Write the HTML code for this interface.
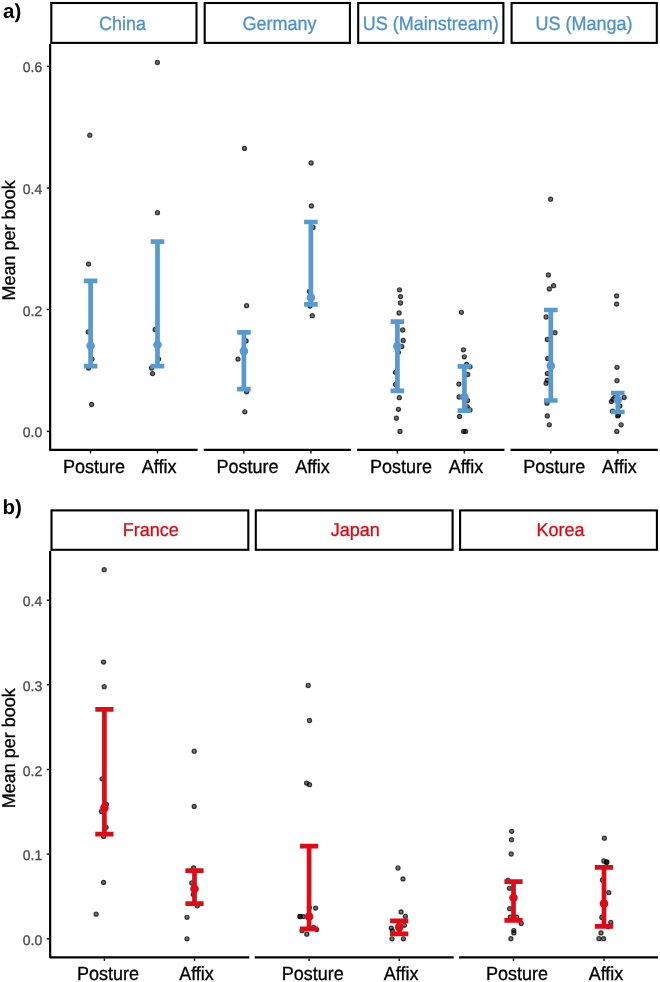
<!DOCTYPE html>
<html lang="en">
<head>
<meta charset="utf-8">
<title>Mean per book: Posture vs Affix by country</title>
<style>
html,body{margin:0;padding:0;background:#fff;}
body{width:660px;height:982px;overflow:hidden;}
svg{display:block;font-family:"Liberation Sans", Arial, Helvetica, sans-serif;text-rendering:geometricPrecision;}
text{stroke-width:0.3px;}
</style>
</head>
<body>
<svg width="660" height="982" viewBox="0 0 660 982">
<rect width="660" height="982" fill="#fff"/>
<text x="3.0" y="18" font-size="20.5" font-weight="bold" fill="#000">a)</text>
<rect x="51.3" y="3.0" width="145.20" height="39.90" fill="#fff" stroke="#000" stroke-width="2.1"/>
<text transform="translate(122.6 29.5) scale(1 1.07)" text-anchor="middle" font-size="18" fill="#4C92CE" stroke="#4C92CE">China</text>
<rect x="204.7" y="3.0" width="145.20" height="39.90" fill="#fff" stroke="#000" stroke-width="2.1"/>
<text transform="translate(279.5 29.5) scale(1 1.07)" text-anchor="middle" font-size="18" fill="#4C92CE" stroke="#4C92CE">Germany</text>
<rect x="358.2" y="3.0" width="145.20" height="39.90" fill="#fff" stroke="#000" stroke-width="2.1"/>
<text transform="translate(430.85 29.5) scale(1 1.07)" text-anchor="middle" font-size="18" fill="#4C92CE" stroke="#4C92CE">US (Mainstream)</text>
<rect x="511.6" y="3.0" width="145.20" height="39.90" fill="#fff" stroke="#000" stroke-width="2.1"/>
<text transform="translate(584.1 29.5) scale(1 1.07)" text-anchor="middle" font-size="18" fill="#4C92CE" stroke="#4C92CE">US (Manga)</text>
<path d="M50.15 44V449.9H197.6" stroke="#000" stroke-width="2.2" fill="none" stroke-linejoin="round"/>
<path d="M203.65 449.9H350.95" stroke="#000" stroke-width="2.2"/>
<path d="M357.15 449.9H504.45" stroke="#000" stroke-width="2.2"/>
<path d="M510.55 449.9H657.85" stroke="#000" stroke-width="2.2"/>
<path d="M46.8 66.3H49.1" stroke="#1a1a1a" stroke-width="1.5"/>
<text transform="translate(42.2 72.30) scale(1 1.0)" text-anchor="end" font-size="14" fill="#4a4a4a" stroke="#4a4a4a">0.6</text>
<path d="M46.8 188.1H49.1" stroke="#1a1a1a" stroke-width="1.5"/>
<text transform="translate(42.2 194.10) scale(1 1.0)" text-anchor="end" font-size="14" fill="#4a4a4a" stroke="#4a4a4a">0.4</text>
<path d="M46.8 309.5H49.1" stroke="#1a1a1a" stroke-width="1.5"/>
<text transform="translate(42.2 315.50) scale(1 1.0)" text-anchor="end" font-size="14" fill="#4a4a4a" stroke="#4a4a4a">0.2</text>
<path d="M46.8 431.4H49.1" stroke="#1a1a1a" stroke-width="1.5"/>
<text transform="translate(42.2 437.40) scale(1 1.0)" text-anchor="end" font-size="14" fill="#4a4a4a" stroke="#4a4a4a">0.0</text>
<text transform="translate(15.2 240.4) rotate(-90) scale(1 1.02)" text-anchor="middle" font-size="18" fill="#000" stroke="#000">Mean per book</text>
<circle cx="89.8" cy="135.2" r="2.05" fill="#000" fill-opacity="0.55" stroke="#000" stroke-opacity="0.74" stroke-width="1.2"/>
<circle cx="88.6" cy="264.1" r="2.05" fill="#000" fill-opacity="0.55" stroke="#000" stroke-opacity="0.74" stroke-width="1.2"/>
<circle cx="88.2" cy="331.8" r="2.05" fill="#000" fill-opacity="0.55" stroke="#000" stroke-opacity="0.74" stroke-width="1.2"/>
<circle cx="92" cy="359.1" r="2.05" fill="#000" fill-opacity="0.55" stroke="#000" stroke-opacity="0.74" stroke-width="1.2"/>
<circle cx="88.6" cy="368" r="2.05" fill="#000" fill-opacity="0.55" stroke="#000" stroke-opacity="0.74" stroke-width="1.2"/>
<circle cx="91.6" cy="404.5" r="2.05" fill="#000" fill-opacity="0.55" stroke="#000" stroke-opacity="0.74" stroke-width="1.2"/>
<circle cx="157.4" cy="62.5" r="2.05" fill="#000" fill-opacity="0.55" stroke="#000" stroke-opacity="0.74" stroke-width="1.2"/>
<circle cx="157.5" cy="212.7" r="2.05" fill="#000" fill-opacity="0.55" stroke="#000" stroke-opacity="0.74" stroke-width="1.2"/>
<circle cx="155.2" cy="329.5" r="2.05" fill="#000" fill-opacity="0.55" stroke="#000" stroke-opacity="0.74" stroke-width="1.2"/>
<circle cx="158.6" cy="359.1" r="2.05" fill="#000" fill-opacity="0.55" stroke="#000" stroke-opacity="0.74" stroke-width="1.2"/>
<circle cx="151.6" cy="368" r="2.05" fill="#000" fill-opacity="0.55" stroke="#000" stroke-opacity="0.74" stroke-width="1.2"/>
<circle cx="152.5" cy="373.6" r="2.05" fill="#000" fill-opacity="0.55" stroke="#000" stroke-opacity="0.74" stroke-width="1.2"/>
<circle cx="244.5" cy="148.4" r="2.05" fill="#000" fill-opacity="0.55" stroke="#000" stroke-opacity="0.74" stroke-width="1.2"/>
<circle cx="246.6" cy="305.7" r="2.05" fill="#000" fill-opacity="0.55" stroke="#000" stroke-opacity="0.74" stroke-width="1.2"/>
<circle cx="246.1" cy="340.9" r="2.05" fill="#000" fill-opacity="0.55" stroke="#000" stroke-opacity="0.74" stroke-width="1.2"/>
<circle cx="238" cy="359.1" r="2.05" fill="#000" fill-opacity="0.55" stroke="#000" stroke-opacity="0.74" stroke-width="1.2"/>
<circle cx="246.6" cy="391.8" r="2.05" fill="#000" fill-opacity="0.55" stroke="#000" stroke-opacity="0.74" stroke-width="1.2"/>
<circle cx="244.8" cy="411.8" r="2.05" fill="#000" fill-opacity="0.55" stroke="#000" stroke-opacity="0.74" stroke-width="1.2"/>
<circle cx="311.1" cy="163" r="2.05" fill="#000" fill-opacity="0.55" stroke="#000" stroke-opacity="0.74" stroke-width="1.2"/>
<circle cx="311.4" cy="205.9" r="2.05" fill="#000" fill-opacity="0.55" stroke="#000" stroke-opacity="0.74" stroke-width="1.2"/>
<circle cx="313" cy="227.5" r="2.05" fill="#000" fill-opacity="0.55" stroke="#000" stroke-opacity="0.74" stroke-width="1.2"/>
<circle cx="309.5" cy="291.4" r="2.05" fill="#000" fill-opacity="0.55" stroke="#000" stroke-opacity="0.74" stroke-width="1.2"/>
<circle cx="310" cy="306.1" r="2.05" fill="#000" fill-opacity="0.55" stroke="#000" stroke-opacity="0.74" stroke-width="1.2"/>
<circle cx="312.3" cy="315.7" r="2.05" fill="#000" fill-opacity="0.55" stroke="#000" stroke-opacity="0.74" stroke-width="1.2"/>
<circle cx="399.5" cy="289.8" r="2.05" fill="#000" fill-opacity="0.55" stroke="#000" stroke-opacity="0.74" stroke-width="1.2"/>
<circle cx="400.5" cy="296.6" r="2.05" fill="#000" fill-opacity="0.55" stroke="#000" stroke-opacity="0.74" stroke-width="1.2"/>
<circle cx="400.5" cy="303" r="2.05" fill="#000" fill-opacity="0.55" stroke="#000" stroke-opacity="0.74" stroke-width="1.2"/>
<circle cx="399.1" cy="313" r="2.05" fill="#000" fill-opacity="0.55" stroke="#000" stroke-opacity="0.74" stroke-width="1.2"/>
<circle cx="402.7" cy="330" r="2.05" fill="#000" fill-opacity="0.55" stroke="#000" stroke-opacity="0.74" stroke-width="1.2"/>
<circle cx="403.2" cy="340.5" r="2.05" fill="#000" fill-opacity="0.55" stroke="#000" stroke-opacity="0.74" stroke-width="1.2"/>
<circle cx="401.8" cy="346.6" r="2.05" fill="#000" fill-opacity="0.55" stroke="#000" stroke-opacity="0.74" stroke-width="1.2"/>
<circle cx="398.4" cy="352.3" r="2.05" fill="#000" fill-opacity="0.55" stroke="#000" stroke-opacity="0.74" stroke-width="1.2"/>
<circle cx="395.5" cy="372.3" r="2.05" fill="#000" fill-opacity="0.55" stroke="#000" stroke-opacity="0.74" stroke-width="1.2"/>
<circle cx="395.5" cy="384.5" r="2.05" fill="#000" fill-opacity="0.55" stroke="#000" stroke-opacity="0.74" stroke-width="1.2"/>
<circle cx="399.3" cy="397.7" r="2.05" fill="#000" fill-opacity="0.55" stroke="#000" stroke-opacity="0.74" stroke-width="1.2"/>
<circle cx="398.4" cy="409.3" r="2.05" fill="#000" fill-opacity="0.55" stroke="#000" stroke-opacity="0.74" stroke-width="1.2"/>
<circle cx="396.4" cy="418.2" r="2.05" fill="#000" fill-opacity="0.55" stroke="#000" stroke-opacity="0.74" stroke-width="1.2"/>
<circle cx="400" cy="431.4" r="2.05" fill="#000" fill-opacity="0.55" stroke="#000" stroke-opacity="0.74" stroke-width="1.2"/>
<circle cx="461.4" cy="312.3" r="2.05" fill="#000" fill-opacity="0.55" stroke="#000" stroke-opacity="0.74" stroke-width="1.2"/>
<circle cx="463.4" cy="349.8" r="2.05" fill="#000" fill-opacity="0.55" stroke="#000" stroke-opacity="0.74" stroke-width="1.2"/>
<circle cx="464.3" cy="356.8" r="2.05" fill="#000" fill-opacity="0.55" stroke="#000" stroke-opacity="0.74" stroke-width="1.2"/>
<circle cx="466.6" cy="364.5" r="2.05" fill="#000" fill-opacity="0.55" stroke="#000" stroke-opacity="0.74" stroke-width="1.2"/>
<circle cx="470" cy="366.8" r="2.05" fill="#000" fill-opacity="0.55" stroke="#000" stroke-opacity="0.74" stroke-width="1.2"/>
<circle cx="467.7" cy="374.5" r="2.05" fill="#000" fill-opacity="0.55" stroke="#000" stroke-opacity="0.74" stroke-width="1.2"/>
<circle cx="458.9" cy="384.1" r="2.05" fill="#000" fill-opacity="0.55" stroke="#000" stroke-opacity="0.74" stroke-width="1.2"/>
<circle cx="459.1" cy="397" r="2.05" fill="#000" fill-opacity="0.55" stroke="#000" stroke-opacity="0.74" stroke-width="1.2"/>
<circle cx="467.5" cy="400.5" r="2.05" fill="#000" fill-opacity="0.55" stroke="#000" stroke-opacity="0.74" stroke-width="1.2"/>
<circle cx="467.3" cy="406.8" r="2.05" fill="#000" fill-opacity="0.55" stroke="#000" stroke-opacity="0.74" stroke-width="1.2"/>
<circle cx="470" cy="410" r="2.05" fill="#000" fill-opacity="0.55" stroke="#000" stroke-opacity="0.74" stroke-width="1.2"/>
<circle cx="459.5" cy="416.4" r="2.05" fill="#000" fill-opacity="0.55" stroke="#000" stroke-opacity="0.74" stroke-width="1.2"/>
<circle cx="463.6" cy="431.4" r="2.05" fill="#000" fill-opacity="0.55" stroke="#000" stroke-opacity="0.74" stroke-width="1.2"/>
<circle cx="465.5" cy="431.4" r="2.05" fill="#000" fill-opacity="0.55" stroke="#000" stroke-opacity="0.74" stroke-width="1.2"/>
<circle cx="550.6" cy="199.2" r="2.05" fill="#000" fill-opacity="0.55" stroke="#000" stroke-opacity="0.74" stroke-width="1.2"/>
<circle cx="548.4" cy="275" r="2.05" fill="#000" fill-opacity="0.55" stroke="#000" stroke-opacity="0.74" stroke-width="1.2"/>
<circle cx="553.6" cy="285.7" r="2.05" fill="#000" fill-opacity="0.55" stroke="#000" stroke-opacity="0.74" stroke-width="1.2"/>
<circle cx="549.3" cy="288.9" r="2.05" fill="#000" fill-opacity="0.55" stroke="#000" stroke-opacity="0.74" stroke-width="1.2"/>
<circle cx="546.1" cy="317" r="2.05" fill="#000" fill-opacity="0.55" stroke="#000" stroke-opacity="0.74" stroke-width="1.2"/>
<circle cx="555" cy="332.7" r="2.05" fill="#000" fill-opacity="0.55" stroke="#000" stroke-opacity="0.74" stroke-width="1.2"/>
<circle cx="547.3" cy="339.5" r="2.05" fill="#000" fill-opacity="0.55" stroke="#000" stroke-opacity="0.74" stroke-width="1.2"/>
<circle cx="547.7" cy="358.6" r="2.05" fill="#000" fill-opacity="0.55" stroke="#000" stroke-opacity="0.74" stroke-width="1.2"/>
<circle cx="547.3" cy="373.6" r="2.05" fill="#000" fill-opacity="0.55" stroke="#000" stroke-opacity="0.74" stroke-width="1.2"/>
<circle cx="547.3" cy="380.2" r="2.05" fill="#000" fill-opacity="0.55" stroke="#000" stroke-opacity="0.74" stroke-width="1.2"/>
<circle cx="546.1" cy="383.2" r="2.05" fill="#000" fill-opacity="0.55" stroke="#000" stroke-opacity="0.74" stroke-width="1.2"/>
<circle cx="547" cy="403.2" r="2.05" fill="#000" fill-opacity="0.55" stroke="#000" stroke-opacity="0.74" stroke-width="1.2"/>
<circle cx="547.3" cy="415.9" r="2.05" fill="#000" fill-opacity="0.55" stroke="#000" stroke-opacity="0.74" stroke-width="1.2"/>
<circle cx="549.3" cy="424.8" r="2.05" fill="#000" fill-opacity="0.55" stroke="#000" stroke-opacity="0.74" stroke-width="1.2"/>
<circle cx="616.6" cy="295.9" r="2.05" fill="#000" fill-opacity="0.55" stroke="#000" stroke-opacity="0.74" stroke-width="1.2"/>
<circle cx="616.6" cy="304.1" r="2.05" fill="#000" fill-opacity="0.55" stroke="#000" stroke-opacity="0.74" stroke-width="1.2"/>
<circle cx="617" cy="367.3" r="2.05" fill="#000" fill-opacity="0.55" stroke="#000" stroke-opacity="0.74" stroke-width="1.2"/>
<circle cx="617" cy="380.7" r="2.05" fill="#000" fill-opacity="0.55" stroke="#000" stroke-opacity="0.74" stroke-width="1.2"/>
<circle cx="624.1" cy="397.5" r="2.05" fill="#000" fill-opacity="0.55" stroke="#000" stroke-opacity="0.74" stroke-width="1.2"/>
<circle cx="613" cy="399.3" r="2.05" fill="#000" fill-opacity="0.55" stroke="#000" stroke-opacity="0.74" stroke-width="1.2"/>
<circle cx="611.4" cy="401.6" r="2.05" fill="#000" fill-opacity="0.55" stroke="#000" stroke-opacity="0.74" stroke-width="1.2"/>
<circle cx="619.8" cy="406.1" r="2.05" fill="#000" fill-opacity="0.55" stroke="#000" stroke-opacity="0.74" stroke-width="1.2"/>
<circle cx="612.5" cy="411.1" r="2.05" fill="#000" fill-opacity="0.55" stroke="#000" stroke-opacity="0.74" stroke-width="1.2"/>
<circle cx="617.7" cy="415.9" r="2.05" fill="#000" fill-opacity="0.55" stroke="#000" stroke-opacity="0.74" stroke-width="1.2"/>
<circle cx="614.8" cy="397.5" r="2.05" fill="#000" fill-opacity="0.55" stroke="#000" stroke-opacity="0.74" stroke-width="1.2"/>
<circle cx="618.5" cy="415" r="2.05" fill="#000" fill-opacity="0.55" stroke="#000" stroke-opacity="0.74" stroke-width="1.2"/>
<circle cx="621.1" cy="424.8" r="2.05" fill="#000" fill-opacity="0.55" stroke="#000" stroke-opacity="0.74" stroke-width="1.2"/>
<circle cx="616.8" cy="431.4" r="2.05" fill="#000" fill-opacity="0.55" stroke="#000" stroke-opacity="0.74" stroke-width="1.2"/>
<path d="M83.80 280.9H97.40M83.80 366.1H97.40M90.6 280.9V366.1" stroke="#569AD0" stroke-width="4.7" fill="none"/>
<circle cx="90.6" cy="345.7" r="4.3" fill="#569AD0"/>
<path d="M150.70 241.7H164.30M150.70 366.1H164.30M157.5 241.7V366.1" stroke="#569AD0" stroke-width="4.7" fill="none"/>
<circle cx="157.5" cy="344.8" r="4.3" fill="#569AD0"/>
<path d="M237.10 332.3H250.70M237.10 389.1H250.70M243.9 332.3V389.1" stroke="#569AD0" stroke-width="4.7" fill="none"/>
<circle cx="243.9" cy="351.1" r="4.3" fill="#569AD0"/>
<path d="M304.10 222H317.70M304.10 304.3H317.70M310.9 222V304.3" stroke="#569AD0" stroke-width="4.7" fill="none"/>
<circle cx="310.9" cy="297.5" r="4.3" fill="#569AD0"/>
<path d="M390.60 321.6H404.20M390.60 390.9H404.20M397.4 321.6V390.9" stroke="#569AD0" stroke-width="4.7" fill="none"/>
<circle cx="397.4" cy="346.4" r="4.3" fill="#569AD0"/>
<path d="M457.60 366.4H471.20M457.60 410.7H471.20M464.4 366.4V410.7" stroke="#569AD0" stroke-width="4.7" fill="none"/>
<circle cx="464.4" cy="397" r="4.3" fill="#569AD0"/>
<path d="M544.00 310H557.60M544.00 400.5H557.60M550.8 310V400.5" stroke="#569AD0" stroke-width="4.7" fill="none"/>
<circle cx="550.8" cy="365.9" r="4.3" fill="#569AD0"/>
<path d="M611.00 393H624.60M611.00 412H624.60M617.8 393V412" stroke="#569AD0" stroke-width="4.7" fill="none"/>
<circle cx="617.8" cy="400" r="4.3" fill="#569AD0"/>
<path d="M90.5 451.0V453.5" stroke="#1a1a1a" stroke-width="1.5"/>
<path d="M157.5 451.0V453.5" stroke="#1a1a1a" stroke-width="1.5"/>
<text transform="translate(94.0 472.5) scale(1 1.055)" text-anchor="middle" font-size="18" fill="#000" stroke="#000">Posture</text>
<text transform="translate(159.1 472.5) scale(1 1.055)" text-anchor="middle" font-size="18" fill="#000" stroke="#000">Affix</text>
<path d="M243.89999999999998 451.0V453.5" stroke="#1a1a1a" stroke-width="1.5"/>
<path d="M310.9 451.0V453.5" stroke="#1a1a1a" stroke-width="1.5"/>
<text transform="translate(247.39999999999998 472.5) scale(1 1.055)" text-anchor="middle" font-size="18" fill="#000" stroke="#000">Posture</text>
<text transform="translate(312.5 472.5) scale(1 1.055)" text-anchor="middle" font-size="18" fill="#000" stroke="#000">Affix</text>
<path d="M397.4 451.0V453.5" stroke="#1a1a1a" stroke-width="1.5"/>
<path d="M464.4 451.0V453.5" stroke="#1a1a1a" stroke-width="1.5"/>
<text transform="translate(400.9 472.5) scale(1 1.055)" text-anchor="middle" font-size="18" fill="#000" stroke="#000">Posture</text>
<text transform="translate(466.0 472.5) scale(1 1.055)" text-anchor="middle" font-size="18" fill="#000" stroke="#000">Affix</text>
<path d="M550.8000000000001 451.0V453.5" stroke="#1a1a1a" stroke-width="1.5"/>
<path d="M617.8000000000001 451.0V453.5" stroke="#1a1a1a" stroke-width="1.5"/>
<text transform="translate(554.3000000000001 472.5) scale(1 1.055)" text-anchor="middle" font-size="18" fill="#000" stroke="#000">Posture</text>
<text transform="translate(619.4000000000001 472.5) scale(1 1.055)" text-anchor="middle" font-size="18" fill="#000" stroke="#000">Affix</text>
<text x="2.4" y="513.5" font-size="20.5" font-weight="bold" fill="#000">b)</text>
<rect x="51.5" y="510.4" width="196.80" height="39.40" fill="#fff" stroke="#000" stroke-width="2.1"/>
<text transform="translate(150.75 535.8) scale(1 1.04)" text-anchor="middle" font-size="18" fill="#DC0813" stroke="#DC0813">France</text>
<rect x="255.8" y="510.4" width="196.80" height="39.40" fill="#fff" stroke="#000" stroke-width="2.1"/>
<text transform="translate(355.3 535.8) scale(1 1.04)" text-anchor="middle" font-size="18" fill="#DC0813" stroke="#DC0813">Japan</text>
<rect x="460.1" y="510.4" width="196.80" height="39.40" fill="#fff" stroke="#000" stroke-width="2.1"/>
<text transform="translate(560.5 535.8) scale(1 1.04)" text-anchor="middle" font-size="18" fill="#DC0813" stroke="#DC0813">Korea</text>
<path d="M50.15 551V957.3H249.3" stroke="#000" stroke-width="2.2" fill="none" stroke-linejoin="round"/>
<path d="M254.75 957.3H453.65" stroke="#000" stroke-width="2.2"/>
<path d="M459.05 957.3H657.95" stroke="#000" stroke-width="2.2"/>
<path d="M46.8 600.3H49.1" stroke="#1a1a1a" stroke-width="1.5"/>
<text transform="translate(42.2 606.30) scale(1 1.0)" text-anchor="end" font-size="14" fill="#4a4a4a" stroke="#4a4a4a">0.4</text>
<path d="M46.8 684.8H49.1" stroke="#1a1a1a" stroke-width="1.5"/>
<text transform="translate(42.2 690.80) scale(1 1.0)" text-anchor="end" font-size="14" fill="#4a4a4a" stroke="#4a4a4a">0.3</text>
<path d="M46.8 769.5H49.1" stroke="#1a1a1a" stroke-width="1.5"/>
<text transform="translate(42.2 775.50) scale(1 1.0)" text-anchor="end" font-size="14" fill="#4a4a4a" stroke="#4a4a4a">0.2</text>
<path d="M46.8 854.1H49.1" stroke="#1a1a1a" stroke-width="1.5"/>
<text transform="translate(42.2 860.10) scale(1 1.0)" text-anchor="end" font-size="14" fill="#4a4a4a" stroke="#4a4a4a">0.1</text>
<path d="M46.8 938.8H49.1" stroke="#1a1a1a" stroke-width="1.5"/>
<text transform="translate(42.2 944.80) scale(1 1.0)" text-anchor="end" font-size="14" fill="#4a4a4a" stroke="#4a4a4a">0.0</text>
<text transform="translate(15.2 748.2) rotate(-90) scale(1 1.02)" text-anchor="middle" font-size="18" fill="#000" stroke="#000">Mean per book</text>
<circle cx="104.2" cy="569.7" r="2.05" fill="#000" fill-opacity="0.55" stroke="#000" stroke-opacity="0.74" stroke-width="1.2"/>
<circle cx="103.6" cy="662.1" r="2.05" fill="#000" fill-opacity="0.55" stroke="#000" stroke-opacity="0.74" stroke-width="1.2"/>
<circle cx="104.2" cy="686.7" r="2.05" fill="#000" fill-opacity="0.55" stroke="#000" stroke-opacity="0.74" stroke-width="1.2"/>
<circle cx="102.1" cy="778.8" r="2.05" fill="#000" fill-opacity="0.55" stroke="#000" stroke-opacity="0.74" stroke-width="1.2"/>
<circle cx="106.4" cy="804.5" r="2.05" fill="#000" fill-opacity="0.55" stroke="#000" stroke-opacity="0.74" stroke-width="1.2"/>
<circle cx="101.5" cy="811.5" r="2.05" fill="#000" fill-opacity="0.55" stroke="#000" stroke-opacity="0.74" stroke-width="1.2"/>
<circle cx="106.1" cy="827.3" r="2.05" fill="#000" fill-opacity="0.55" stroke="#000" stroke-opacity="0.74" stroke-width="1.2"/>
<circle cx="103.6" cy="836.4" r="2.05" fill="#000" fill-opacity="0.55" stroke="#000" stroke-opacity="0.74" stroke-width="1.2"/>
<circle cx="103.6" cy="882.4" r="2.05" fill="#000" fill-opacity="0.55" stroke="#000" stroke-opacity="0.74" stroke-width="1.2"/>
<circle cx="96.1" cy="914.2" r="2.05" fill="#000" fill-opacity="0.55" stroke="#000" stroke-opacity="0.74" stroke-width="1.2"/>
<circle cx="194.2" cy="751.2" r="2.05" fill="#000" fill-opacity="0.55" stroke="#000" stroke-opacity="0.74" stroke-width="1.2"/>
<circle cx="194.2" cy="806.4" r="2.05" fill="#000" fill-opacity="0.55" stroke="#000" stroke-opacity="0.74" stroke-width="1.2"/>
<circle cx="193.6" cy="867.9" r="2.05" fill="#000" fill-opacity="0.55" stroke="#000" stroke-opacity="0.74" stroke-width="1.2"/>
<circle cx="191.8" cy="883" r="2.05" fill="#000" fill-opacity="0.55" stroke="#000" stroke-opacity="0.74" stroke-width="1.2"/>
<circle cx="193.3" cy="894.5" r="2.05" fill="#000" fill-opacity="0.55" stroke="#000" stroke-opacity="0.74" stroke-width="1.2"/>
<circle cx="197.3" cy="905.8" r="2.05" fill="#000" fill-opacity="0.55" stroke="#000" stroke-opacity="0.74" stroke-width="1.2"/>
<circle cx="187" cy="917.3" r="2.05" fill="#000" fill-opacity="0.55" stroke="#000" stroke-opacity="0.74" stroke-width="1.2"/>
<circle cx="187" cy="938.8" r="2.05" fill="#000" fill-opacity="0.55" stroke="#000" stroke-opacity="0.74" stroke-width="1.2"/>
<circle cx="308.2" cy="685.5" r="2.05" fill="#000" fill-opacity="0.55" stroke="#000" stroke-opacity="0.74" stroke-width="1.2"/>
<circle cx="309.5" cy="720.5" r="2.05" fill="#000" fill-opacity="0.55" stroke="#000" stroke-opacity="0.74" stroke-width="1.2"/>
<circle cx="306.6" cy="783.1" r="2.05" fill="#000" fill-opacity="0.55" stroke="#000" stroke-opacity="0.74" stroke-width="1.2"/>
<circle cx="309.5" cy="784.7" r="2.05" fill="#000" fill-opacity="0.55" stroke="#000" stroke-opacity="0.74" stroke-width="1.2"/>
<circle cx="315.6" cy="908.1" r="2.05" fill="#000" fill-opacity="0.55" stroke="#000" stroke-opacity="0.74" stroke-width="1.2"/>
<circle cx="309.4" cy="907.6" r="2.05" fill="#000" fill-opacity="0.55" stroke="#000" stroke-opacity="0.74" stroke-width="1.2"/>
<circle cx="300" cy="916.6" r="2.05" fill="#000" fill-opacity="0.55" stroke="#000" stroke-opacity="0.74" stroke-width="1.2"/>
<circle cx="300.2" cy="916.5" r="2.05" fill="#000" fill-opacity="0.55" stroke="#000" stroke-opacity="0.74" stroke-width="1.2"/>
<circle cx="303.4" cy="916.6" r="2.05" fill="#000" fill-opacity="0.55" stroke="#000" stroke-opacity="0.74" stroke-width="1.2"/>
<circle cx="302" cy="930.7" r="2.05" fill="#000" fill-opacity="0.55" stroke="#000" stroke-opacity="0.74" stroke-width="1.2"/>
<circle cx="306.8" cy="934.2" r="2.05" fill="#000" fill-opacity="0.55" stroke="#000" stroke-opacity="0.74" stroke-width="1.2"/>
<circle cx="316.6" cy="929.6" r="2.05" fill="#000" fill-opacity="0.55" stroke="#000" stroke-opacity="0.74" stroke-width="1.2"/>
<circle cx="313.6" cy="927.3" r="2.05" fill="#000" fill-opacity="0.55" stroke="#000" stroke-opacity="0.74" stroke-width="1.2"/>
<circle cx="398" cy="868" r="2.05" fill="#000" fill-opacity="0.55" stroke="#000" stroke-opacity="0.74" stroke-width="1.2"/>
<circle cx="403" cy="878.9" r="2.05" fill="#000" fill-opacity="0.55" stroke="#000" stroke-opacity="0.74" stroke-width="1.2"/>
<circle cx="401.1" cy="911.9" r="2.05" fill="#000" fill-opacity="0.55" stroke="#000" stroke-opacity="0.74" stroke-width="1.2"/>
<circle cx="405.4" cy="916.3" r="2.05" fill="#000" fill-opacity="0.55" stroke="#000" stroke-opacity="0.74" stroke-width="1.2"/>
<circle cx="404.4" cy="925.3" r="2.05" fill="#000" fill-opacity="0.55" stroke="#000" stroke-opacity="0.74" stroke-width="1.2"/>
<circle cx="391.3" cy="928.1" r="2.05" fill="#000" fill-opacity="0.55" stroke="#000" stroke-opacity="0.74" stroke-width="1.2"/>
<circle cx="392.4" cy="931" r="2.05" fill="#000" fill-opacity="0.55" stroke="#000" stroke-opacity="0.74" stroke-width="1.2"/>
<circle cx="392" cy="938.8" r="2.05" fill="#000" fill-opacity="0.55" stroke="#000" stroke-opacity="0.74" stroke-width="1.2"/>
<circle cx="403.4" cy="938.8" r="2.05" fill="#000" fill-opacity="0.55" stroke="#000" stroke-opacity="0.74" stroke-width="1.2"/>
<circle cx="511.7" cy="831.3" r="2.05" fill="#000" fill-opacity="0.55" stroke="#000" stroke-opacity="0.74" stroke-width="1.2"/>
<circle cx="511.5" cy="839.7" r="2.05" fill="#000" fill-opacity="0.55" stroke="#000" stroke-opacity="0.74" stroke-width="1.2"/>
<circle cx="511.2" cy="854" r="2.05" fill="#000" fill-opacity="0.55" stroke="#000" stroke-opacity="0.74" stroke-width="1.2"/>
<circle cx="508" cy="880.5" r="2.05" fill="#000" fill-opacity="0.55" stroke="#000" stroke-opacity="0.74" stroke-width="1.2"/>
<circle cx="509.4" cy="888.3" r="2.05" fill="#000" fill-opacity="0.55" stroke="#000" stroke-opacity="0.74" stroke-width="1.2"/>
<circle cx="509.7" cy="908.7" r="2.05" fill="#000" fill-opacity="0.55" stroke="#000" stroke-opacity="0.74" stroke-width="1.2"/>
<circle cx="516.6" cy="917.1" r="2.05" fill="#000" fill-opacity="0.55" stroke="#000" stroke-opacity="0.74" stroke-width="1.2"/>
<circle cx="510.3" cy="917.1" r="2.05" fill="#000" fill-opacity="0.55" stroke="#000" stroke-opacity="0.74" stroke-width="1.2"/>
<circle cx="521.2" cy="923.4" r="2.05" fill="#000" fill-opacity="0.55" stroke="#000" stroke-opacity="0.74" stroke-width="1.2"/>
<circle cx="513.8" cy="930.6" r="2.05" fill="#000" fill-opacity="0.55" stroke="#000" stroke-opacity="0.74" stroke-width="1.2"/>
<circle cx="513.8" cy="932.9" r="2.05" fill="#000" fill-opacity="0.55" stroke="#000" stroke-opacity="0.74" stroke-width="1.2"/>
<circle cx="510.9" cy="938.7" r="2.05" fill="#000" fill-opacity="0.55" stroke="#000" stroke-opacity="0.74" stroke-width="1.2"/>
<circle cx="604.4" cy="838.2" r="2.05" fill="#000" fill-opacity="0.55" stroke="#000" stroke-opacity="0.74" stroke-width="1.2"/>
<circle cx="603.9" cy="861" r="2.05" fill="#000" fill-opacity="0.55" stroke="#000" stroke-opacity="0.74" stroke-width="1.2"/>
<circle cx="606.5" cy="862.4" r="2.05" fill="#000" fill-opacity="0.55" stroke="#000" stroke-opacity="0.74" stroke-width="1.2"/>
<circle cx="606.9" cy="862.0" r="2.05" fill="#000" fill-opacity="0.55" stroke="#000" stroke-opacity="0.74" stroke-width="1.2"/>
<circle cx="602.4" cy="880" r="2.05" fill="#000" fill-opacity="0.55" stroke="#000" stroke-opacity="0.74" stroke-width="1.2"/>
<circle cx="608.8" cy="892.6" r="2.05" fill="#000" fill-opacity="0.55" stroke="#000" stroke-opacity="0.74" stroke-width="1.2"/>
<circle cx="601.8" cy="917.4" r="2.05" fill="#000" fill-opacity="0.55" stroke="#000" stroke-opacity="0.74" stroke-width="1.2"/>
<circle cx="610.8" cy="922.3" r="2.05" fill="#000" fill-opacity="0.55" stroke="#000" stroke-opacity="0.74" stroke-width="1.2"/>
<circle cx="608.2" cy="926.6" r="2.05" fill="#000" fill-opacity="0.55" stroke="#000" stroke-opacity="0.74" stroke-width="1.2"/>
<circle cx="601" cy="932.9" r="2.05" fill="#000" fill-opacity="0.55" stroke="#000" stroke-opacity="0.74" stroke-width="1.2"/>
<circle cx="599" cy="938.7" r="2.05" fill="#000" fill-opacity="0.55" stroke="#000" stroke-opacity="0.74" stroke-width="1.2"/>
<circle cx="603.6" cy="938.7" r="2.05" fill="#000" fill-opacity="0.55" stroke="#000" stroke-opacity="0.74" stroke-width="1.2"/>
<path d="M95.30 709.4H113.50M95.30 834.2H113.50M104.4 709.4V834.2" stroke="#DE0B17" stroke-width="4.7" fill="none"/>
<circle cx="104.4" cy="807.9" r="4.3" fill="#DE0B17"/>
<path d="M185.40 870.6H203.60M185.40 903.6H203.60M194.5 870.6V903.6" stroke="#DE0B17" stroke-width="4.7" fill="none"/>
<circle cx="194.5" cy="888.8" r="4.3" fill="#DE0B17"/>
<path d="M300.00 846.1H318.20M300.00 928.8H318.20M309.1 846.1V928.8" stroke="#DE0B17" stroke-width="4.7" fill="none"/>
<circle cx="309.1" cy="916.5" r="4.3" fill="#DE0B17"/>
<path d="M390.10 920.9H408.30M390.10 933.8H408.30M399.2 920.9V933.8" stroke="#DE0B17" stroke-width="4.7" fill="none"/>
<circle cx="399.2" cy="927.3" r="4.3" fill="#DE0B17"/>
<path d="M504.40 881.7H522.60M504.40 920.3H522.60M513.5 881.7V920.3" stroke="#DE0B17" stroke-width="4.7" fill="none"/>
<circle cx="513.5" cy="897.8" r="4.3" fill="#DE0B17"/>
<path d="M594.90 867.3H613.10M594.90 926.3H613.10M604 867.3V926.3" stroke="#DE0B17" stroke-width="4.7" fill="none"/>
<circle cx="604" cy="903.6" r="4.3" fill="#DE0B17"/>
<path d="M104.4 958.4V960.9" stroke="#1a1a1a" stroke-width="1.5"/>
<path d="M194.5 958.4V960.9" stroke="#1a1a1a" stroke-width="1.5"/>
<text transform="translate(108.0 980.0) scale(1 1.055)" text-anchor="middle" font-size="18" fill="#000" stroke="#000">Posture</text>
<text transform="translate(196.5 980.0) scale(1 1.055)" text-anchor="middle" font-size="18" fill="#000" stroke="#000">Affix</text>
<path d="M309.1 958.4V960.9" stroke="#1a1a1a" stroke-width="1.5"/>
<path d="M399.2 958.4V960.9" stroke="#1a1a1a" stroke-width="1.5"/>
<text transform="translate(312.70000000000005 980.0) scale(1 1.055)" text-anchor="middle" font-size="18" fill="#000" stroke="#000">Posture</text>
<text transform="translate(401.2 980.0) scale(1 1.055)" text-anchor="middle" font-size="18" fill="#000" stroke="#000">Affix</text>
<path d="M513.5 958.4V960.9" stroke="#1a1a1a" stroke-width="1.5"/>
<path d="M604 958.4V960.9" stroke="#1a1a1a" stroke-width="1.5"/>
<text transform="translate(517.1 980.0) scale(1 1.055)" text-anchor="middle" font-size="18" fill="#000" stroke="#000">Posture</text>
<text transform="translate(606.0 980.0) scale(1 1.055)" text-anchor="middle" font-size="18" fill="#000" stroke="#000">Affix</text>
</svg>
</body>
</html>
